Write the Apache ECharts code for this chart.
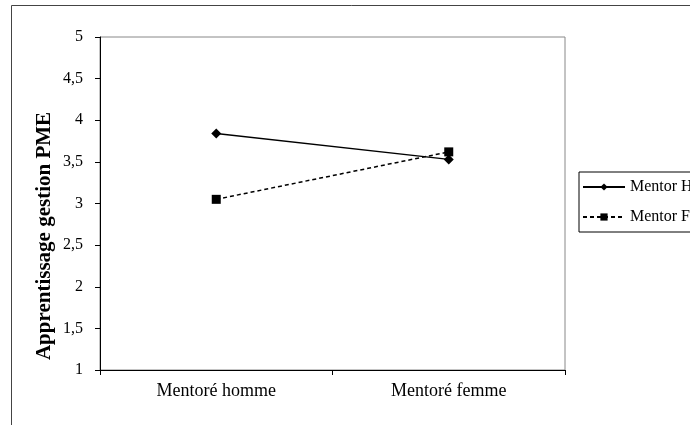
<!DOCTYPE html>
<html><head><meta charset="utf-8">
<script src="https://cdn.jsdelivr.net/npm/echarts@6/dist/echarts.min.js"></script>
<style>html,body{margin:0;padding:0;background:#fff}#c{width:690px;height:425px}</style>
</head><body><div id="c"></div>
<script>
const categories = ['Mentoré homme', 'Mentoré femme'];
const mentorH = [3.84, 3.53];
const mentorF = [3.05, 3.62];
const yTicks = { min: 1, max: 5, interval: 0.5 };
const seriesNames = ['Mentor Homme', 'Mentor Femme'];
const yTitle = 'Apprentissage gestion PME';

const serif = '"Liberation Serif", "Times New Roman", serif';
const chart = echarts.init(document.getElementById('c'), null, { renderer: 'canvas' });
chart.setOption({
  animation: false,
  backgroundColor: '#fff',
  graphic: [
    { type: 'rect', shape: { x: 11.5, y: 5.5, width: 900, height: 900 }, style: { fill: 'none', stroke: '#444', lineWidth: 1 }, silent: true, z: -1 },
    { type: 'text', x: 45, y: 236, rotation: Math.PI / 2, style: { text: yTitle, font: 'bold 21px ' + serif, fill: '#000', align: 'center', verticalAlign: 'middle' } }
  ],
  grid: { left: 100, right: 125, top: 37, bottom: 55, show: true, borderColor: '#888', borderWidth: 1 },
  legend: {
    orient: 'vertical', left: 579, top: 172,
    borderColor: '#000', borderWidth: 1, padding: [7, 6, 7, 3],
    itemWidth: 42, itemHeight: 9, itemGap: 14,
    textStyle: { fontFamily: serif, fontSize: 16, color: '#000' },
    data: seriesNames
  },
  xAxis: {
    type: 'category', data: categories, boundaryGap: true,
    axisLine: { lineStyle: { color: '#000', width: 1 } },
    axisTick: { show: true, length: 5, lineStyle: { color: '#000' } },
    axisLabel: { fontFamily: serif, fontSize: 18, color: '#000', margin: 12 },
    splitLine: { show: false }
  },
  yAxis: {
    type: 'value', min: yTicks.min, max: yTicks.max, interval: yTicks.interval,
    axisLine: { show: true, lineStyle: { color: '#000', width: 1 } },
    axisTick: { show: true, length: 5, lineStyle: { color: '#000' } },
    axisLabel: { fontFamily: serif, fontSize: 16, color: '#000', margin: 17,
      formatter: v => String(v).replace('.', ',') },
    splitLine: { show: false }
  },
  series: [
    { name: seriesNames[0], type: 'line', data: mentorH, symbol: 'diamond', symbolSize: 10,
      lineStyle: { color: '#000', width: 1.5, type: 'solid' }, itemStyle: { color: '#000' } },
    { name: seriesNames[1], type: 'line', data: mentorF, symbol: 'rect', symbolSize: 9,
      lineStyle: { color: '#000', width: 1.5, type: [4, 3] }, itemStyle: { color: '#000' } }
  ]
});
</script></body></html>
